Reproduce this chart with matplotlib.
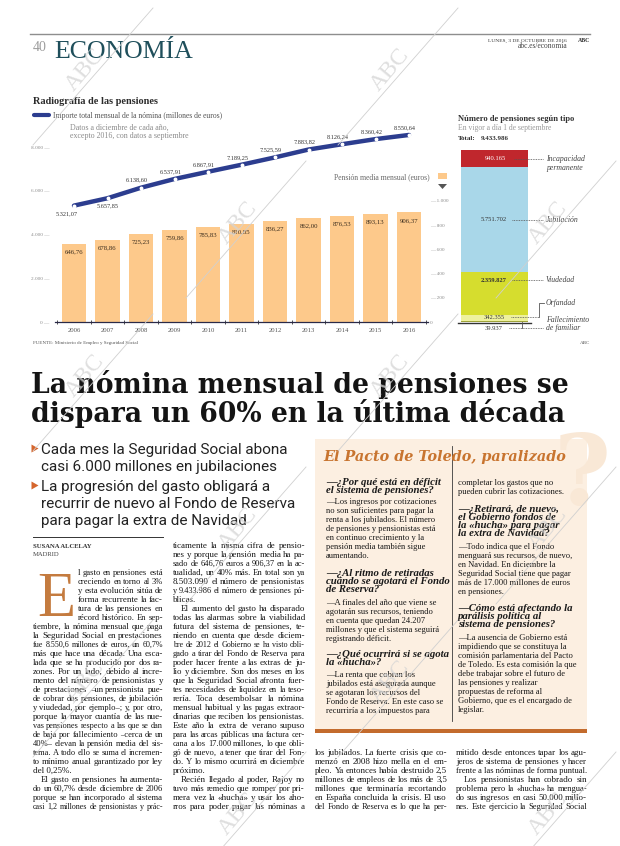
import matplotlib
matplotlib.use('Agg')
import matplotlib.pyplot as plt
import matplotlib.transforms as mtransforms
from matplotlib.font_manager import FontProperties
from matplotlib.lines import Line2D
from matplotlib.patches import Rectangle, Polygon

# ---------------- data ----------------
years = ['2006', '2007', '2008', '2009', '2010', '2011', '2012', '2013', '2014', '2015', '2016']
nomina = [5321.07, 5657.85, 6138.60, 6537.91, 6867.91, 7189.25, 7525.59, 7883.82, 8126.24, 8360.42, 8550.64]
pension_media = [646.76, 678.86, 725.23, 759.86, 785.83, 810.85, 836.27, 862.00, 876.53, 893.13, 906.37]
left_ticks = [0, 2000, 4000, 6000, 8000]
right_ticks = [0, 200, 400, 600, 800, 1000]
tipos = ['Fallecimiento de familiar', 'Orfandad', 'Viudedad', 'Jubilación', 'Incapacidad permanente']
tipos_valores = [39937, 342355, 2359827, 5751702, 940165]
tipos_colores = ['#9ea33a', '#eef19e', '#d6dd2e', '#a9d7e9', '#c0272d']
total_pensiones = 9433986

# ---------------- helpers ----------------
W, H = 620, 846
fig = plt.figure(figsize=(W / 100, H / 100), dpi=100)
fig.patch.set_facecolor('white')
R = fig.canvas.get_renderer()


def fx(x):
    return x / W


def fy(y):
    return 1 - y / H


def fprop(family, size, weight='normal', style='normal'):
    return FontProperties(family=family, size=size, weight=weight, style=style)


def tw(s, family, size, weight='normal', style='normal'):
    w, h, d = R.get_text_width_height_descent(s, fprop(family, size, weight, style), ismath=False)
    return w


def fit(s, width, family, weight='normal', style='normal'):
    return 10.0 * width / tw(s, family, 10.0, weight, style)


def T(x, y, s, size, family='Liberation Serif', color='#222222', weight='normal', style='normal',
      ha='left', va='baseline', **kw):
    return fig.text(fx(x), fy(y), s, fontsize=size, family=family, color=color, weight=weight,
                    style=style, ha=ha, va=va, **kw)


def es_num(v, dec=2):
    s = f"{v:,.{dec}f}"
    return s.replace(',', 'X').replace('.', ',').replace('X', '.')


BODY_F = 'Liberation Serif'
BODY_C = '#161616'


def jline(x0, x1, yb, s, size, justify=True, color=BODY_C, family=BODY_F):
    width = x1 - x0
    full = tw(s, family, size)
    if full > width:
        size = size * width / full
    words = s.split(' ')
    if not justify or len(words) < 2:
        T(x0, yb, s, size, family, color)
        return
    ws = [tw(w, family, size) for w in words]
    gap = (width - sum(ws)) / (len(words) - 1)
    x = x0
    for w, wd in zip(words, ws):
        T(x, yb, w, size, family, color)
        x += wd + gap


def column(lines, x0, x1, first_idx, size, indent_first=0, indent_x=0):
    for k, raw in enumerate(lines):
        s = raw
        just = True
        xs = x0
        if s.startswith('>'):
            s = s[1:]
            xs = x0 + 8
        if s.endswith('|'):
            s = s[:-1]
            just = False
        if k < indent_first:
            xs = indent_x
        yb = 545 + 9 * (first_idx + k) + 3
        jline(xs, x1, yb, s, size, just)


# ---------------- header ----------------
fig.add_artist(Line2D([fx(30), fx(590)], [fy(34), fy(34)], color='#8e8e8e', lw=1.0))
T(33, 51, '40', 10, 'Liberation Serif', '#9c9c9c')
T(54, 58, 'ECONOMÍA', fit('ECONOMÍA', 140, 'Liberation Serif'), 'Liberation Serif', '#1f4f5b')
T(567, 42, 'LUNES, 3 DE OCTUBRE DE 2016', fit('LUNES, 3 DE OCTUBRE DE 2016', 79, 'Liberation Serif'),
  color='#333333', ha='right')
T(590, 42, 'ABC', 4.2, weight='bold', color='#333333', ha='right')
T(567, 48, 'abc.es/economía', fit('abc.es/economía', 50, 'Liberation Serif'), color='#444444', ha='right')

# ---------------- main chart ----------------
BAR_C = '#fdc98b'
LINE_C = '#2c3d8f'
T(33, 104, 'Radiografía de las pensiones', fit('Radiografía de las pensiones', 125, 'Liberation Serif', 'bold'),
  weight='bold', color='#2a2a2a')
fig.add_artist(Line2D([fx(34), fx(49)], [fy(115), fy(115)], color=LINE_C, lw=3.0, solid_capstyle='round'))
T(53, 117.5, 'Importe total mensual de la nómina (millones de euros)',
  fit('Importe total mensual de la nómina (millones de euros)', 170, 'Liberation Serif'), color='#555555')
note_sz = fit('excepto 2016, con datos a septiembre', 117, 'Liberation Serif')
T(70, 130, 'Datos a diciembre de cada año,', note_sz, color='#8a8a8a')
T(70, 138, 'excepto 2016, con datos a septiembre', note_sz, color='#8a8a8a')

X0, STEP = 74.0, 33.5
AXL, AXR, AXB, AXT = 55, 428, 322, 130
axb = fig.add_axes([fx(AXL), fy(AXB), (AXR - AXL) / W, (AXB - AXT) / H])
axb.set_xlim((AXL - X0) / STEP, (AXR - X0) / STEP)
axb.set_ylim(0, (AXB - AXT) / 0.121)
axb.patch.set_visible(False)
axl = axb.twinx()
axl.set_ylim(0, (AXB - AXT) / 0.021875)
axb.yaxis.tick_right()
axl.yaxis.tick_left()

xs = list(range(len(years)))
axb.bar(xs, pension_media, width=0.72, color=BAR_C, zorder=2)
for i, v in enumerate(pension_media):
    axb.annotate(es_num(v), (i, v), xytext=(0, -4), textcoords='offset points', ha='center', va='top',
                 fontsize=4.9, family='Liberation Serif', color='#3b2d1e')

axl.plot(xs, nomina, color=LINE_C, lw=3.2, solid_capstyle='round', zorder=3)
axl.plot(xs, nomina, 'o', ms=1.8, mfc='white', mec='white', zorder=4)
for i, v in enumerate(nomina):
    if i == 0:
        off, va = (-5, -4), 'top'
    elif i == 1:
        off, va = (0, -4), 'top'
    else:
        off, va = (-3, 3.5), 'bottom'
    axl.annotate(es_num(v), (i, v), xytext=off, textcoords='offset points', ha='center', va=va,
                 fontsize=4.5, family='Liberation Serif', color='#333333')

for a in (axb, axl):
    for sp in a.spines.values():
        sp.set_visible(False)
axb.spines['bottom'].set_visible(True)
axb.spines['bottom'].set_color('#2a2a48')
axb.spines['bottom'].set_linewidth(0.9)

axb.set_xticks(xs)
axb.set_xticklabels(years, fontsize=4.8, family='Liberation Serif', color='#555555')
axb.tick_params(axis='x', which='major', length=0, pad=4)
axb.set_xticks([i - 0.5 for i in range(len(years) + 1)], minor=True)
axb.tick_params(axis='x', which='minor', length=3, width=0.6, direction='inout', color='#333333')

axb.set_yticks(right_ticks)
axb.set_yticklabels(['0'] + ['— ' + es_num(v, 0) for v in right_ticks[1:]], fontsize=3.8,
                    family='Liberation Serif', color='#8c8c8c')
axb.tick_params(axis='y', length=0, pad=1.5)
axl.set_yticks(left_ticks)
axl.set_yticklabels([es_num(v, 0) + ' —' for v in left_ticks], fontsize=3.8,
                    family='Liberation Serif', color='#8c8c8c')
axl.tick_params(axis='y', length=0, pad=4)

T(430, 179.5, 'Pensión media mensual (euros)', fit('Pensión media mensual (euros)', 95, 'Liberation Serif'),
  color='#666666', ha='right')
fig.add_artist(Rectangle((fx(438), fy(179)), 9 / W, 6 / H, transform=fig.transFigure,
                         facecolor=BAR_C, edgecolor='none'))
fig.add_artist(Polygon([[fx(438), fy(184)], [fx(447), fy(184)], [fx(442.5), fy(189)]],
                       closed=True, transform=fig.transFigure, facecolor='#555555', edgecolor='none'))

T(33, 344, 'FUENTE: Ministerio de Empleo y Seguridad Social',
  fit('FUENTE: Ministerio de Empleo y Seguridad Social', 105, 'Liberation Serif'), color='#555555')
T(590, 344, 'ABC', 3.6, color='#555555', ha='right')

# ---------------- stacked bar ----------------
T(458, 121, 'Número de pensiones según tipo',
  fit('Número de pensiones según tipo', 117, 'Liberation Serif', 'bold'), weight='bold', color='#333333')
T(458, 130, 'En vigor a día 1 de septiembre', fit('En vigor a día 1 de septiembre', 93, 'Liberation Serif'),
  color='#9a9a9a')
T(458, 140, 'Total:', 5.0, weight='bold', color='#333333')
T(481, 140, es_num(total_pensiones, 0), 5.0, weight='bold', color='#333333')

axs = fig.add_axes([fx(461), fy(322), (528 - 461) / W, (322 - 150) / H])
axs.set_xlim(0, 1)
axs.set_ylim(0, sum(tipos_valores))
bottoms = []
acc = 0
for v in tipos_valores:
    bottoms.append(acc)
    acc += v
axs.bar([0.5] * len(tipos_valores), tipos_valores, width=1.0, bottom=bottoms, color=tipos_colores)
axs.axis('off')
fig.add_artist(Line2D([fx(458), fx(531)], [fy(322.5), fy(322.5)], color='#333333', lw=1.0))

blend = mtransforms.blended_transform_factory(fig.transFigure, axs.transData)


def shifted(dy_px):
    return blend + mtransforms.ScaledTranslation(0, -dy_px / 100.0, fig.dpi_scale_trans)


def leader(x0, x1, tr, y):
    fig.add_artist(Line2D([fx(x0), fx(x1)], [y, y], transform=tr, ls=(0, (1, 1)), lw=0.6, color='#555555'))


VAL_SZ, LAB_SZ = 4.7, 5.6
LAB_C = '#444444'
centers = [b + v / 2 for b, v in zip(bottoms, tipos_valores)]
# Incapacidad permanente
c = centers[4]
fig.text(fx(495), c, es_num(tipos_valores[4], 0), transform=blend, ha='center', va='center',
         fontsize=VAL_SZ, family='Liberation Serif', color='white')
leader(514, 543, blend, c)
fig.text(fx(546), c, 'Incapacidad', transform=blend, va='center', fontsize=LAB_SZ, style='italic',
         family='Liberation Serif', color=LAB_C)
fig.text(fx(546), c, 'permanente', transform=shifted(9), va='center', fontsize=LAB_SZ, style='italic',
         family='Liberation Serif', color=LAB_C)
# Jubilación
c = centers[3]
fig.text(fx(494), c, es_num(tipos_valores[3], 0), transform=blend, ha='center', va='center',
         fontsize=VAL_SZ, family='Liberation Serif', color='#333333')
leader(512, 543, blend, c)
fig.text(fx(546), c, 'Jubilación', transform=blend, va='center', fontsize=LAB_SZ, style='italic',
         family='Liberation Serif', color=LAB_C)
# Viudedad
top2 = bottoms[2] + tipos_valores[2]
tr = shifted(8)
fig.text(fx(494), top2, es_num(tipos_valores[2], 0), transform=tr, ha='center', va='center',
         fontsize=VAL_SZ, family='Liberation Serif', color='#333333', weight='bold')
leader(512, 543, tr, top2)
fig.text(fx(546), top2, 'Viudedad', transform=tr, va='center', fontsize=LAB_SZ, style='italic',
         family='Liberation Serif', color=LAB_C)
# Orfandad
c = centers[1]
tr = shifted(-1)
fig.text(fx(494), c, es_num(tipos_valores[1], 0), transform=tr, ha='center', va='center',
         fontsize=VAL_SZ, family='Liberation Serif', color='#333333')
leader(511, 539, tr, c)
fig.text(fx(546), c, 'Orfandad', transform=shifted(-15), va='center', fontsize=LAB_SZ, style='italic',
         family='Liberation Serif', color=LAB_C)
c_fig = axs.transData.transform((0, c))[1] / fig.bbox.height
fig.add_artist(Line2D([fx(539), fx(539), fx(544)], [c_fig + 1 / H, c_fig + 15 / H, c_fig + 15 / H],
                      color='#555555', lw=0.6))
# Fallecimiento de familiar
tr = shifted(6)
fig.text(fx(494), 0, es_num(tipos_valores[0], 0), transform=tr, ha='center', va='center',
         fontsize=VAL_SZ, family='Liberation Serif', color='#333333')
leader(509, 543, tr, 0)
z_fig = axs.transData.transform((0, 0))[1] / fig.bbox.height
fig.add_artist(Line2D([fx(522), fx(522)], [z_fig, z_fig - 6 / H], color='#555555', lw=0.6))
fig.text(fx(546), 0, 'Fallecimiento', transform=shifted(-2.5), va='center', fontsize=LAB_SZ, style='italic',
         family='Liberation Serif', color=LAB_C)
fig.text(fx(546), 0, 'de familiar', transform=shifted(6.5), va='center', fontsize=LAB_SZ, style='italic',
         family='Liberation Serif', color=LAB_C)

# ---------------- headline ----------------
HF = 'DejaVu Serif'
hsz = fit('La nómina mensual de pensiones se', 540, HF, 'bold')
T(31, 393, 'La nómina mensual de pensiones se', hsz, HF, '#141414', weight='bold')
T(31, 422, 'dispara un 60% en la última década', hsz, HF, '#141414', weight='bold')

SF = 'Roboto'
ssz = fit('recurrir de nuevo al Fondo de Reserva', 255, SF)
subheads = ['Cada mes la Seguridad Social abona', 'casi 6.000 millones en jubilaciones',
            'La progresión del gasto obligará a', 'recurrir de nuevo al Fondo de Reserva',
            'para pagar la extra de Navidad']
sub_base = [454, 471, 491, 508, 525]
for k, (s, yb) in enumerate(zip(subheads, sub_base)):
    T(41, yb, s, ssz, SF, '#222222')
    if k in (0, 2):
        fig.add_artist(Polygon([[fx(31.5), fy(yb - 9.5)], [fx(31.5), fy(yb - 1.5)], [fx(38.5), fy(yb - 5.5)]],
                               closed=True, transform=fig.transFigure, facecolor='#d5652c', edgecolor='none'))

# ---------------- box ----------------
fig.add_artist(Rectangle((fx(315), fy(729)), (587 - 315) / W, (729 - 439) / H, transform=fig.transFigure,
                         facecolor='#fcefe1', edgecolor='none', zorder=0))
T(582, 505, '?', 70, 'DejaVu Serif', '#f9e8d6', weight='bold', ha='center', zorder=0.5)
fig.add_artist(Rectangle((fx(315), fy(733)), (587 - 315) / W, 4 / H, transform=fig.transFigure,
                         facecolor='#c36b2d', edgecolor='none', zorder=1))
fig.add_artist(Line2D([fx(452), fx(452)], [fy(446), fy(721)], color='#3a3a3a', lw=0.6))
T(323, 461, 'El Pacto de Toledo, paralizado',
  fit('El Pacto de Toledo, paralizado', 244, HF, 'bold', 'italic'), HF, '#c8742f', weight='bold', style='italic')

QF = 'Liberation Serif'
qsz = fit('—¿Por qué está en déficit', 115, QF, 'bold', 'italic')
asz = fit('—Los ingresos por cotizaciones', 109, QF)
box_left = [
    ('q', 482, '—¿Por qué está en déficit'), ('q', 490, 'el sistema de pensiones?'),
    ('a', 501, '—Los ingresos por cotizaciones'), ('a', 510, 'no son suficientes para pagar la'),
    ('a', 519, 'renta a los jubilados. El número'), ('a', 528, 'de pensiones y pensionistas está'),
    ('a', 537, 'en continuo crecimiento y la'), ('a', 546, 'pensión media también sigue'),
    ('a', 555, 'aumentando.'),
    ('q', 573, '—¿Al ritmo de retiradas'), ('q', 581, 'cuándo se agotará el Fondo'),
    ('q', 589, 'de Reserva?'),
    ('a', 602, '—A finales del año que viene se'), ('a', 611, 'agotarán sus recursos, teniendo'),
    ('a', 620, 'en cuenta que quedan 24.207'), ('a', 629, 'millones y que el sistema seguirá'),
    ('a', 638, 'registrando déficit.'),
    ('q', 654, '—¿Qué ocurrirá si se agota'), ('q', 662, 'la «hucha»?'),
    ('a', 674, '—La renta que cobran los'), ('a', 683, 'jubilados está asegurada aunque'),
    ('a', 692, 'se agotaran los recursos del'), ('a', 701, 'Fondo de Reserva. En este caso se'),
    ('a', 710, 'recurriría a los impuestos para'),
]
box_right = [
    ('a', 482, 'completar los gastos que no'), ('a', 491, 'pueden cubrir las cotizaciones.'),
    ('q', 509, '—¿Retirará, de nuevo,'), ('q', 517, 'el Gobierno fondos de'),
    ('q', 525, 'la «hucha» para pagar'), ('q', 533, 'la extra de Navidad?'),
    ('a', 546, '—Todo indica que el Fondo'), ('a', 555, 'menguará sus recursos, de nuevo,'),
    ('a', 564, 'en Navidad. En diciembre la'), ('a', 573, 'Seguridad Social tiene que pagar'),
    ('a', 582, 'más de 17.000 millones de euros'), ('a', 591, 'en pensiones.'),
    ('q', 608, '—Cómo está afectando la'), ('q', 616, 'parálisis política al'),
    ('q', 624, 'sistema de pensiones?'),
    ('a', 637, '—La ausencia de Gobierno está'), ('a', 646, 'impidiendo que se constituya la'),
    ('a', 655, 'comisión parlamentaria del Pacto'), ('a', 664, 'de Toledo. Es esta comisión la que'),
    ('a', 673, 'debe trabajar sobre el futuro de'), ('a', 682, 'las pensiones y realizar'),
    ('a', 691, 'propuestas de reforma al'), ('a', 700, 'Gobierno, que es el encargado de'),
    ('a', 709, 'legislar.'),
]
for xcol, items in ((326, box_left), (458, box_right)):
    for kind, yc, s in items:
        if kind == 'q':
            T(xcol, yc + 3, s, qsz, QF, '#1a1a1a', weight='bold', style='italic')
        else:
            T(xcol, yc + 3, s, asz, QF, BODY_C)

# ---------------- byline & body ----------------
fig.add_artist(Line2D([fx(33), fx(163)], [fy(537), fy(537)], color='#333333', lw=0.7))
T(33, 548, 'SUSANA ALCELAY', fit('SUSANA ALCELAY', 59, 'Liberation Serif', 'bold'), weight='bold', color='#333333')
T(33, 556, 'MADRID', fit('MADRID', 27, 'Liberation Serif'), color='#444444')
T(37, 616, 'E', 45, 'Liberation Serif', '#c47b3f')

col1 = [
    "l gasto en pensiones está", "creciendo en torno al 3%", "y esta evolución sitúa de",
    "forma recurrente la fac-", "tura de las pensiones en", "récord histórico. En sep-",
    "tiembre, la nómina mensual que paga", "la Seguridad Social en prestaciones",
    "fue 8.550,6 millones de euros, un 60,7%", "más que hace una década. Una esca-",
    "lada que se ha producido por dos ra-", "zones. Por un lado, debido al incre-",
    "mento del número de pensionistas y", "de prestaciones –un pensionista pue-",
    "de cobrar dos pensiones, de jubilación", "y viudedad, por ejemplo–; y, por otro,",
    "porque la mayor cuantía de las nue-", "vas pensiones respecto a las que se dan",
    "de baja por fallecimiento –cerca de un", "40%– elevan la pensión media del sis-",
    "tema. A todo ello se suma el incremen-", "to mínimo anual garantizado por ley",
    "del 0,25%.|", ">El gasto en pensiones ha aumenta-", "do un 60,7% desde diciembre de 2006",
    "porque se han incorporado al sistema", "casi 1,2 millones de pensionistas y prác-",
]
col2 = [
    "ticamente la misma cifra de pensio-", "nes y porque la pensión media ha pa-",
    "sado de 646,76 euros a 906,37 en la ac-", "tualidad, un 40% más. En total son ya",
    "8.503.090 el número de pensionistas", "y 9.433.986 el número de pensiones pú-",
    "blicas.|", ">El aumento del gasto ha disparado", "todas las alarmas sobre la viabilidad",
    "futura del sistema de pensiones, te-", "niendo en cuenta que desde diciem-",
    "bre de 2012 el Gobierno se ha visto obli-", "gado a tirar del Fondo de Reserva para",
    "poder hacer frente a las extras de ju-", "lio y diciembre. Son dos meses en los",
    "que la Seguridad Social afronta fuer-", "tes necesidades de liquidez en la teso-",
    "rería. Toca desembolsar la nómina", "mensual habitual y las pagas extraor-",
    "dinarias que reciben los pensionistas.", "Este año la extra de verano supuso",
    "para las arcas públicas una factura cer-", "cana a los 17.000 millones, lo que obli-",
    "gó de nuevo, a tener que tirar del Fon-", "do. Y lo mismo ocurrirá en diciembre",
    "próximo.|", ">Recién llegado al poder, Rajoy no", "tuvo más remedio que romper por pri-",
    "mera vez la «hucha» y usar los aho-", "rros para poder pagar las nóminas a",
]
col3 = [
    "los jubilados. La fuerte crisis que co-", "menzó en 2008 hizo mella en el em-",
    "pleo. Ya entonces había destruido 2,5", "millones de empleos de los más de 3,5",
    "millones que terminaría recortando", "en España concluida la crisis. El uso",
    "del Fondo de Reserva es lo que ha per-",
]
col4 = [
    "mitido desde entonces tapar los agu-", "jeros de sistema de pensiones y hacer",
    "frente a las nóminas de forma puntual.|", ">Los pensionistas han cobrado sin",
    "problema pero la «hucha» ha mengua-", "do sus ingresos en casi 50.000 millo-",
    "nes. Este ejercicio la Seguridad Social",
]

ref_lines = [s for s in col2 if not s.endswith('|') and not s.startswith('>')]
ratios = sorted(10.0 * 132 / tw(s, BODY_F, 10.0) for s in ref_lines)
body_sz = ratios[int(len(ratios) * 0.7)] * 0.99

column(col1, 33, 163, 3, body_sz, indent_first=6, indent_x=78)
column(col2, 173, 305, 0, body_sz)
column(col3, 315, 447, 23, body_sz)
column(col4, 456, 587, 23, body_sz)

# ---------------- watermarks ----------------
wm_rows = [70, 223, 376, 529, 682, 814]
for k, yy in enumerate(wm_rows):
    wx = [85, 390] if k % 2 == 0 else [238, 548]
    for xx in wx:
        T(xx, yy, 'ABC', 17, 'Liberation Serif', '#d4d4d4', ha='center', va='center', rotation=50,
          zorder=20, alpha=0.75)
        fig.add_artist(Line2D([fx(xx - 52), fx(xx + 68)], [fy(yy + 75), fy(yy - 62)], color='#d0d0d0',
                              lw=0.6, zorder=20))

fig.savefig('out.png', dpi=100, facecolor='white')
